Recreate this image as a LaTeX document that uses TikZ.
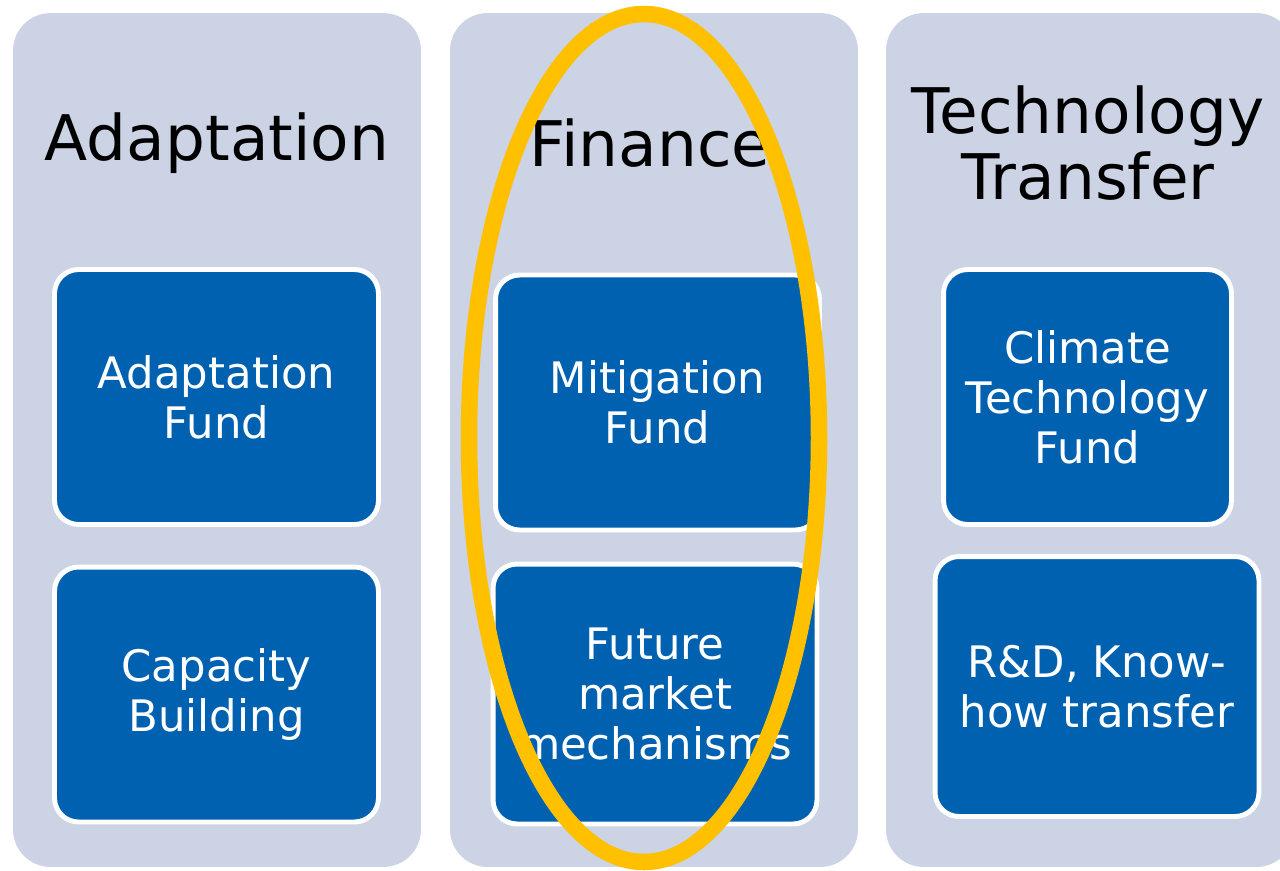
\documentclass[tikz,border=0pt]{standalone}
\usepackage{fontspec}
\setmainfont{DejaVu Sans}
\usepackage{tikz}
\usetikzlibrary{positioning}
\usepackage{xcolor}
\definecolor{xpanel}{HTML}{CBD3E4}
\definecolor{xblue}{HTML}{0061B0}
\definecolor{xgold}{HTML}{FFC000}
\tikzset{
	panel/.style={fill=xpanel, rounded corners=0.75cm, minimum width=8.16cm, minimum height=17.08cm, inner sep=0pt},
	heading/.style={font=\fontsize{35.8}{38}\selectfont, align=center, text=black},
	fund/.style={fill=xblue, draw=white, line width=2.8pt, rounded corners=0.48cm, text=white, align=center, font=\fontsize{24.7}{28.5}\selectfont, inner sep=0pt, minimum width=6.48cm, minimum height=5.1cm},
}

\begin{document}
\begin{tikzpicture}[x=0.02cm, y=-0.02cm]
	\useasboundingbox (0,0) rectangle (1280,870);

	% columns
	\node[panel] (P1) at (217,440) {};
	\node[panel] (P2) at (654,440) {};
	\node[panel] (P3) at (1090,440) {};

	\node[heading] (T1) at (217,143) {Adaptation};
	\node[heading] (T2) at (650,143) {Finance};
	\node[heading] (T3) at (1088,143) {Technology\\Transfer};

	% boxes
	\node[fund] (A1) at (216.5,397) {Adaptation\\Fund};
	\node[fund] (A2) at (216.5,694.5) {Capacity\\Building};

	\node[fund] (B1) at (657.5,402.5) {Mitigation\\Fund};
	\node[fund, minimum height=5.2cm] (B2) at (655,694) {Future\\market\\mechanisms};

	\node[fund, minimum width=5.76cm] (C1) at (1087.5,397) {Climate\\Technology\\Fund};
	\node[fund, minimum height=5.2cm] (C2) at (1097,686.5) {R\&D, Know-\\how transfer};

	% highlight
	\draw[xgold, line width=9.4pt] (644,438) ellipse (175 and 424);
\end{tikzpicture}
\end{document}
